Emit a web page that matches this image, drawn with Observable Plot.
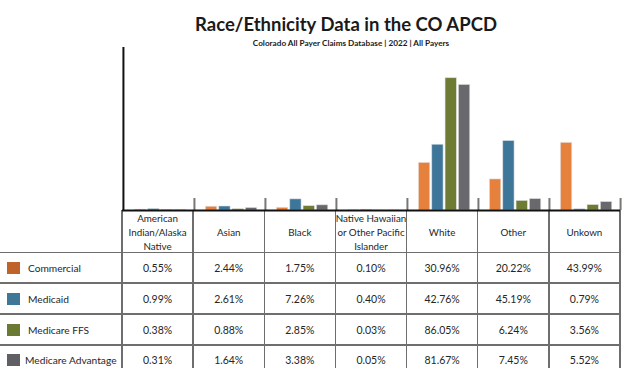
<!DOCTYPE html>
<html>
<head>
<meta charset="utf-8">
<script src="https://cdn.jsdelivr.net/npm/d3@7"></script>
<script src="https://cdn.jsdelivr.net/npm/@observablehq/plot@0.6"></script>
<style>
  html, body { margin: 0; padding: 0; background: #fff; }
  #wrap { position: relative; width: 624px; height: 374px; overflow: hidden; font-family: Lato, "Noto Sans", sans-serif; color: #262626; }
  #title { position: absolute; top: 14px; left: 346px; transform: translateX(-50%); white-space: nowrap; font-size: 18.5px; line-height: 20px; font-weight: 700; color: #1a1a1a; z-index: 2; }
  #subtitle { position: absolute; top: 38px; left: 351px; transform: translateX(-50%); white-space: nowrap; font-size: 8.2px; line-height: 10px; font-weight: 700; color: #1a1a1a; z-index: 2; }
  #chart { position: absolute; left: 0; top: 0; z-index: 1; }
  .hl { position: absolute; height: 1.5px; background: #6e6e6e; z-index: 0; }
  .vl { position: absolute; width: 1.5px; background: #6e6e6e; z-index: 0; }
  .cell { position: absolute; display: flex; align-items: center; justify-content: center; text-align: center; font-size: 10.5px; line-height: 14px; z-index: 3; white-space: nowrap; }
  .head { font-size: 9.8px; }
  .lab { position: absolute; display: flex; align-items: center; font-size: 10.2px; z-index: 3; white-space: nowrap; }
  .sw { position: absolute; width: 13px; height: 12px; z-index: 3; }
</style>
</head>
<body>
<div id="wrap">
  <div id="title">Race/Ethnicity Data in the CO APCD</div>
  <div id="subtitle">Colorado All Payer Claims Database | 2022 | All Payers</div>
  <div id="chart"></div>
</div>
<script>
const categories = ["American Indian/Alaska Native", "Asian", "Black", "Native Hawaiian or Other Pacific Islander", "White", "Other", "Unkown"];
const headerLabels = [["American", "Indian/Alaska", "Native"], ["Asian"], ["Black"], ["Native Hawaiian", "or Other Pacific", "Islander"], ["White"], ["Other"], ["Unkown"]];
const series = ["Commercial", "Medicaid", "Medicare FFS", "Medicare Advantage"];
const commercial = [0.55, 2.44, 1.75, 0.10, 30.96, 20.22, 43.99];
const medicaid = [0.99, 2.61, 7.26, 0.40, 42.76, 45.19, 0.79];
const medicareFFS = [0.38, 0.88, 2.85, 0.03, 86.05, 6.24, 3.56];
const medicareAdvantage = [0.31, 1.64, 3.38, 0.05, 81.67, 7.45, 5.52];
const barColors = ["#E5813C", "#3E7699", "#6E7B33", "#68686D"];
const swatchColors = ["#C0632A", "#3F7897", "#6A7A33", "#5F5F64"];

const seriesValues = [commercial, medicaid, medicareFFS, medicareAdvantage];
const rows = [];
series.forEach((s, si) => categories.forEach((c, ci) => rows.push({series: s, category: c, value: seriesValues[si][ci]})));

const W = 624, H = 374;
const mL = 122, mR = 4, mT = 47, baseY = 210;
const bw = (W - mL - mR) / categories.length;
const barW = 11.5, step = 13.33, firstOff = 11.4;

const marks = [];
series.forEach((s, si) => {
  const off = firstOff + si * step;
  marks.push(Plot.barY(rows.filter(d => d.series === s), {
    x: "category", y: "value", fill: barColors[si],
    stroke: "#e6e6e6", strokeWidth: 0.8, strokeOpacity: 0.7,
    insetLeft: off, insetRight: bw - off - barW
  }));
});
// group boundary ticks
marks.push(Plot.ruleX(categories.slice(1), {x: d => d, dx: -bw / 2, insetTop: (baseY - mT) - 12, stroke: "#777", strokeWidth: 2}));
marks.push(Plot.ruleX(categories.slice(-1), {x: d => d, dx: bw / 2, insetTop: (baseY - mT) - 12, stroke: "#777", strokeWidth: 2}));
// vertical axis line
marks.push(Plot.ruleX(categories.slice(0, 1), {x: d => d, dx: -bw / 2, stroke: "#111", strokeWidth: 2}));
// baseline
marks.push(Plot.ruleY([0], {stroke: "#111", strokeWidth: 2}));

const chart = Plot.plot({
  width: W, height: H,
  marginTop: mT, marginBottom: H - baseY, marginLeft: mL, marginRight: mR,
  style: {background: "transparent"},
  x: {type: "band", domain: categories, padding: 0, axis: null},
  y: {domain: [0, 106], axis: null},
  marks
});
document.getElementById("chart").appendChild(chart);

// data table below the axis
const wrap = document.getElementById("wrap");
function el(cls, css, text) {
  const d = document.createElement("div");
  d.className = cls;
  Object.assign(d.style, css);
  if (text !== undefined) d.innerHTML = text;
  wrap.appendChild(d);
  return d;
}
const rowEdges = [baseY, 252.5, 283, 314, 345, 374];
const tableRight = W - mR;
for (let r = 1; r <= 4; r++) {
  el("hl", {left: "0px", width: tableRight + "px", top: (rowEdges[r] - 0.75) + "px"});
}
for (let c = 0; c <= categories.length; c++) {
  el("vl", {left: (mL + c * bw - 0.75) + "px", top: baseY + "px", height: (368 - baseY) + "px"});
}
headerLabels.forEach((lines, ci) => {
  el("cell head", {left: (mL + ci * bw) + "px", width: bw + "px", top: (rowEdges[0] + 1) + "px", height: (rowEdges[1] - rowEdges[0]) + "px"}, lines.join("<br>"));
});
series.forEach((s, si) => {
  const top = rowEdges[si + 1], h = rowEdges[si + 2] - top;
  el("sw", {left: "7px", top: (top + h / 2 - 6) + "px", background: swatchColors[si]});
  el("lab", {left: si === 3 ? "25px" : "28px", top: top + "px", height: h + "px"}, s);
  seriesValues[si].forEach((v, ci) => {
    el("cell", {left: (mL + ci * bw) + "px", width: bw + "px", top: top + "px", height: h + "px"}, v.toFixed(2) + "%");
  });
});
</script>
</body>
</html>
